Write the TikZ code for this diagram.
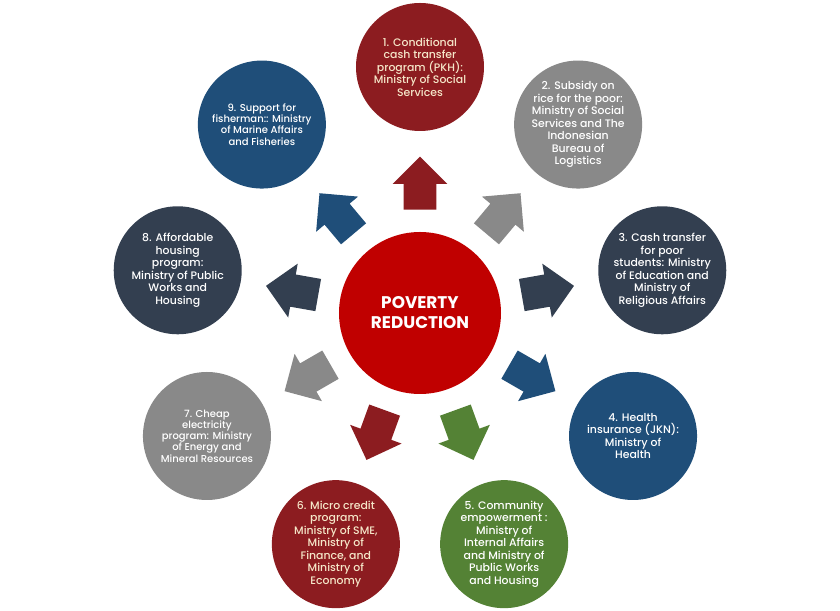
\documentclass[tikz,border=0pt]{standalone}
\usepackage{fontspec}
\setmainfont{Poppins}
\IfFontExistsTF{Poppins Medium}{\newfontfamily\midfont{Poppins Medium}}{\newfontfamily\midfont{Poppins}}
\usepackage{xcolor}
\usetikzlibrary{shapes.arrows}

\definecolor{povred}{HTML}{C00000}
\definecolor{wine}{HTML}{8C1C20}
\definecolor{stone}{HTML}{898989}
\definecolor{slate}{HTML}{333F50}
\definecolor{sea}{HTML}{1F4E79}
\definecolor{leaf}{HTML}{548235}
\definecolor{cream}{HTML}{F5E6C8}

\tikzset{
  goal/.style={circle, minimum size=2.56cm, inner sep=0pt, align=center,
    text=white, font=\midfont\fontsize{6.2}{7.1}\selectfont},
  smallgoal/.style={goal, font=\midfont\fontsize{5.7}{6.4}\selectfont},
  push/.style={single arrow, draw=none, inner sep=0pt, inner ysep=0.32cm,
    single arrow head extend=0.22cm, minimum height=1.06cm, anchor=tail}
}

\begin{document}
\begin{tikzpicture}
        \useasboundingbox (-8.4,-5.96) rectangle (8.4,6.26);

        % Centre
        \node[circle, fill=povred, minimum size=3.24cm, align=center, text=white,
          font=\bfseries\fontsize{9.6}{11.4}\selectfont] (C) at (0,0) {POVERTY\\REDUCTION};

        % Define the programs
        \node[goal, fill=wine, text=cream] (P1) at (90:4.92)
          {1. Conditional\\cash transfer\\program (PKH):\\Ministry of Social\\Services};
        \node[goal, fill=stone] (P2) at (50:4.92)
          {2. Subsidy on\\rice for the poor:\\Ministry of Social\\Services and The\\Indonesian\\Bureau of\\Logistics};
        \node[goal, fill=slate] (P3) at (10:4.92)
          {3. Cash transfer\\for poor\\students: Ministry\\of Education and\\Ministry of\\Religious Affairs};
        \node[goal, fill=sea] (P4) at (-30:4.92)
          {4. Health\\insurance (JKN):\\Ministry of\\Health};
        \node[goal, fill=leaf] (P5) at (-70:4.92)
          {5. Community\\empowerment :\\Ministry of\\Internal Affairs\\and Ministry of\\Public Works\\and Housing};
        \node[goal, fill=wine, text=cream] (P6) at (-110:4.92)
          {6. Micro credit\\program:\\Ministry of SME,\\Ministry of\\Finance, and\\Ministry of\\Economy};
        \node[smallgoal, fill=stone] (P7) at (-150:4.92)
          {7. Cheap\\electricity\\program: Ministry\\of Energy and\\Mineral Resources};
        \node[goal, fill=slate] (P8) at (170:4.92)
          {8. Affordable\\housing\\program:\\Ministry of Public\\Works and\\Housing};
        \node[smallgoal, fill=sea] (P9) at (130:4.92)
          {9. Support for\\fisherman:: Ministry\\of Marine Affairs\\and Fisheries};

        % Draw arrows
        \node[push, fill=wine, rotate=90] (A1) at (90:2.06) {};
        \node[push, fill=stone, rotate=50] (A2) at (50:2.06) {};
        \node[push, fill=slate, rotate=10] (A3) at (10:2.06) {};
        \node[push, fill=sea, rotate=-30] (A4) at (-30:2.06) {};
        \node[push, fill=leaf, rotate=-70] (A5) at (-70:2.06) {};
        \node[push, fill=wine, rotate=-110] (A6) at (-110:2.06) {};
        \node[push, fill=stone, rotate=-150] (A7) at (-150:2.06) {};
        \node[push, fill=slate, rotate=170] (A8) at (170:2.06) {};
        \node[push, fill=sea, rotate=130] (A9) at (130:2.06) {};
    \end{tikzpicture}
\end{document}
